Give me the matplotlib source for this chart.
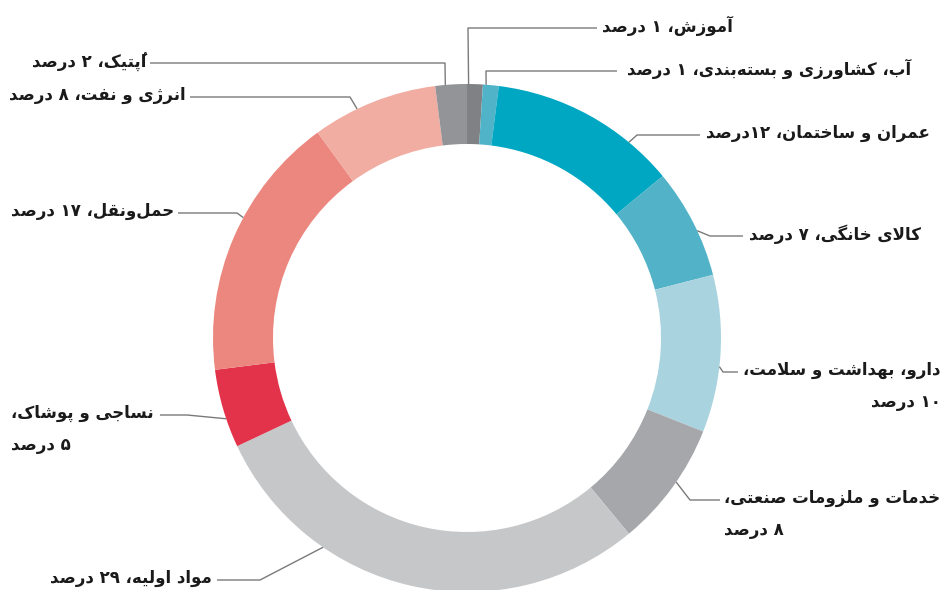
import re
import numpy as np
import matplotlib
matplotlib.use("Agg")
import matplotlib.pyplot as plt

# data (clockwise from 12 o'clock)
sectors = [
    "آموزش، ۱ درصد",
    "آب، کشاورزی و بسته‌بندی، ۱ درصد",
    "عمران و ساختمان، ۱۲درصد",
    "کالای خانگی، ۷ درصد",
    "دارو، بهداشت و سلامت،\n۱۰ درصد",
    "خدمات و ملزومات صنعتی،\n۸ درصد",
    "مواد اولیه، ۲۹ درصد",
    "نساجی و پوشاک،\n۵ درصد",
    "حمل‌ونقل، ۱۷ درصد",
    "انرژی و نفت، ۸ درصد",
    "اُپتیک، ۲ درصد",
]
shares = [1, 1, 12, 7, 10, 8, 29, 5, 17, 8, 2]
colors = ["#808184", "#50b3c8", "#00a7c2", "#52b3c8", "#a9d4df", "#a6a7ab",
          "#c6c7c9", "#e3334b", "#ec877f", "#f2ada2", "#929497"]

# --- minimal Persian shaping (matplotlib has no harfbuzz) ---
FORMS = {
    "ا": (0xFE8D, 0xFE8E, None, None), "آ": (0xFE81, 0xFE82, None, None),
    "ب": (0xFE8F, 0xFE90, 0xFE91, 0xFE92), "پ": (0xFB56, 0xFB57, 0xFB58, 0xFB59),
    "ت": (0xFE95, 0xFE96, 0xFE97, 0xFE98), "ج": (0xFE9D, 0xFE9E, 0xFE9F, 0xFEA0),
    "ح": (0xFEA1, 0xFEA2, 0xFEA3, 0xFEA4), "خ": (0xFEA5, 0xFEA6, 0xFEA7, 0xFEA8),
    "د": (0xFEA9, 0xFEAA, None, None), "ر": (0xFEAD, 0xFEAE, None, None),
    "ز": (0xFEAF, 0xFEB0, None, None), "ژ": (0xFB8A, 0xFB8B, None, None),
    "س": (0xFEB1, 0xFEB2, 0xFEB3, 0xFEB4), "ش": (0xFEB5, 0xFEB6, 0xFEB7, 0xFEB8),
    "ص": (0xFEB9, 0xFEBA, 0xFEBB, 0xFEBC), "ع": (0xFEC9, 0xFECA, 0xFECB, 0xFECC),
    "ف": (0xFED1, 0xFED2, 0xFED3, 0xFED4), "ق": (0xFED5, 0xFED6, 0xFED7, 0xFED8),
    "ک": (0xFB8E, 0xFB8F, 0xFB90, 0xFB91), "گ": (0xFB92, 0xFB93, 0xFB94, 0xFB95),
    "ل": (0xFEDD, 0xFEDE, 0xFEDF, 0xFEE0), "م": (0xFEE1, 0xFEE2, 0xFEE3, 0xFEE4),
    "ن": (0xFEE5, 0xFEE6, 0xFEE7, 0xFEE8), "و": (0xFEED, 0xFEEE, None, None),
    "ه": (0xFEE9, 0xFEEA, 0xFEEB, 0xFEEC), "ی": (0xFBFC, 0xFBFD, 0xFBFE, 0xFBFF),
}
LAM_ALEF = {"ا": (0xFEFB, 0xFEFC), "آ": (0xFEF5, 0xFEF6)}
MARKS = "\u064e\u064f\u0650\u0651\u0652"


def shape_line(s):
    chars = list(s)
    n = len(chars)

    def neighbour(i, step):
        j = i + step
        while 0 <= j < n and chars[j] in MARKS:
            j += step
        return chars[j] if 0 <= j < n else None

    clusters = []
    i = 0
    while i < n:
        c = chars[i]
        if c in MARKS and clusters:
            # mark drawn just before its base so it lands over it
            clusters[-1] = c + clusters[-1]
            i += 1
            continue
        if c not in FORMS:
            if c != "\u200c":
                clusters.append(c)
            i += 1
            continue
        prev, nxt = neighbour(i, -1), neighbour(i, 1)
        pj = prev in FORMS and FORMS[prev][2] is not None
        if c == "ل" and nxt in LAM_ALEF:
            clusters.append(chr(LAM_ALEF[nxt][1 if pj else 0]))
            i += 1
            while chars[i] in MARKS:
                i += 1
            i += 1
            continue
        nj = FORMS[c][2] is not None and nxt in FORMS
        iso, fin, ini, med = FORMS[c]
        code = med if (pj and nj) else fin if pj else ini if nj else iso
        clusters.append(chr(code))
        i += 1
    # visual order: reverse clusters, keep digit runs left-to-right
    out, run = [], []
    for cl in clusters[::-1]:
        if re.match(r"[۰-۹0-9]", cl):
            run.append(cl)
        else:
            out.extend(run[::-1])
            run = []
            out.append(cl)
    out.extend(run[::-1])
    return "".join(out)


def shape(s):
    return "\n".join(shape_line(line) for line in s.split("\n"))


W, H = 946, 590
fig = plt.figure(figsize=(W / 100, H / 100), dpi=100)
ax = fig.add_axes([0, 0, 1, 1])

R_OUT, RING = 254, 60
cx, cy = 467, H - 338
wedges, _ = ax.pie(shares, colors=colors, radius=R_OUT, center=(cx, cy),
                   startangle=90, counterclock=False,
                   wedgeprops=dict(width=RING, linewidth=0))
ax.set_xlim(0, W)
ax.set_ylim(0, H)
ax.set_aspect("equal")
ax.axis("off")

# leader layout: fraction along slice (clockwise), elbow (x, y from top), end x, text x, ha, align
layout = [
    (0.10, (468, 28), 597, 602, "left", "right"),
    (0.20, (486, 71), 617, 627, "left", "right"),
    (0.75, (637, 135), 700, 706, "left", "right"),
    (0.58, (710, 236), 743, 749, "left", "right"),
    (0.58, (723, 372), 738, 743, "left", "right"),
    (0.45, (690, 500), 720, 724, "left", "left"),
    (0.71, (260, 580), 217, 212, "right", "right"),
    (0.37, (187, 415), 160, 154, "right", "left"),
    (0.58, (237, 213), 178, 174, "right", "right"),
    (0.36, (350, 97), 190, 186, "right", "right"),
    (0.32, (445, 63), 150, 146, "right", "right"),
]

for w, label, (f, (ex, ey), endx, tx, ha, ma) in zip(wedges, sectors, layout):
    ang = np.deg2rad(w.theta2 - f * (w.theta2 - w.theta1))
    x0 = cx + R_OUT * np.cos(ang)
    y0 = cy + R_OUT * np.sin(ang)
    ax.plot([x0, ex, endx], [y0, H - ey, H - ey], color="#7a7a7a", lw=1.0,
            solid_capstyle="butt")
    nl = "\n" in label
    ax.text(tx, H - ey + (11 if nl else 2), shape(label), ha=ha,
            va="top" if nl else "center", multialignment=ma, fontsize=12,
            fontweight="bold", color="#1a1a1a", family="DejaVu Sans",
            linespacing=2.0)

fig.savefig("out.png", dpi=100)
